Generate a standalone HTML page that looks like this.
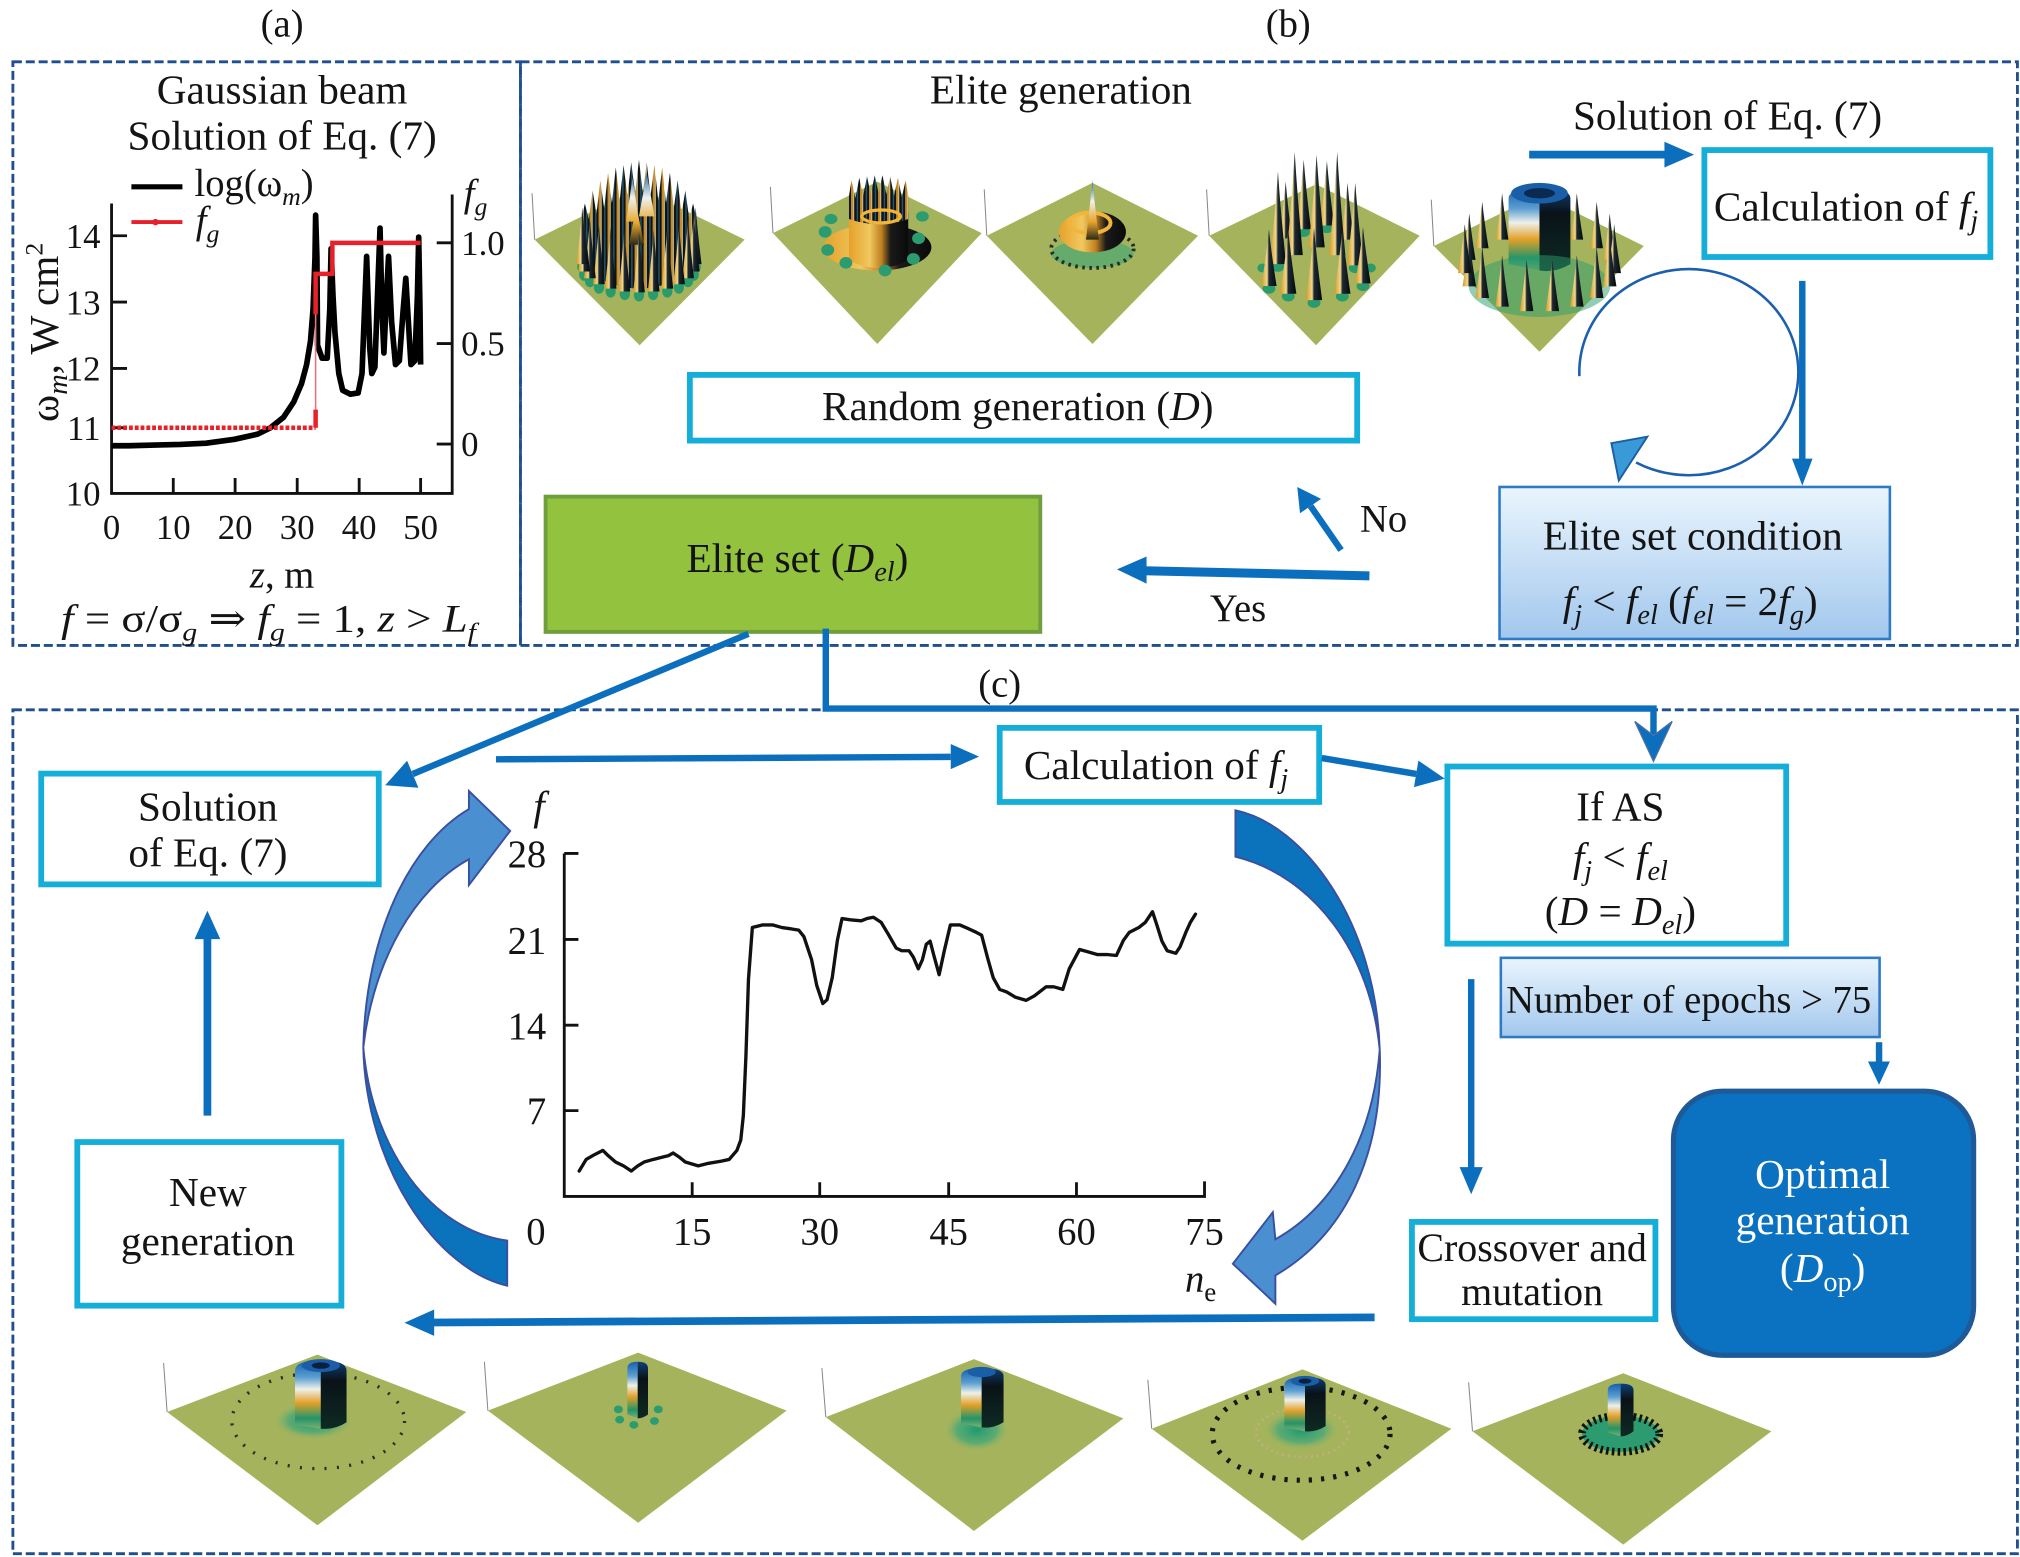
<!DOCTYPE html>
<html><head><meta charset="utf-8">
<style>
html,body{margin:0;padding:0;background:#fff;}
svg{display:block;}
text{font-family:"Liberation Serif","DejaVu Serif",serif;fill:#141414;}
</style></head><body>
<svg xmlns="http://www.w3.org/2000/svg" xmlns:xlink="http://www.w3.org/1999/xlink" width="2020" height="1557" viewBox="0 0 1568 1208.6" preserveAspectRatio="none">
<defs>
<linearGradient id="bg1" x1="0" y1="0" x2="0" y2="1"><stop offset="0" stop-color="#eaf5fd"/><stop offset="1" stop-color="#a2c7ed"/></linearGradient>
<pattern id="st" width="7" height="80" patternUnits="userSpaceOnUse"><rect width="7" height="80" fill="#101416"/><rect x="2.6" width="1.6" height="80" fill="#c98a20"/><rect x="4.2" width=".8" height="80" fill="#e8d8a0"/><rect x="0" width="1" height="80" fill="#235e7a"/></pattern>
<linearGradient id="cl" x1="0" y1="0" x2="0" y2="1"><stop offset="0" stop-color="#1560b0"/><stop offset=".25" stop-color="#5d9fd2"/><stop offset=".42" stop-color="#eef0ea"/><stop offset=".62" stop-color="#e3a128"/><stop offset=".85" stop-color="#23946a"/><stop offset="1" stop-color="#7fb070"/></linearGradient>
<linearGradient id="cr" x1="0" y1="0" x2="0" y2="1"><stop offset="0" stop-color="#0f3f7a"/><stop offset=".3" stop-color="#0a1218"/><stop offset="1" stop-color="#0e2a22"/></linearGradient>
<radialGradient id="gb"><stop offset="0" stop-color="#1d9a70"/><stop offset=".6" stop-color="#4aa878" stop-opacity=".8"/><stop offset="1" stop-color="#a5b45c" stop-opacity="0"/></radialGradient>
<linearGradient id="skg" x1="0" y1="0" x2="1" y2="0"><stop offset="0" stop-color="#d8961c"/><stop offset=".38" stop-color="#f0d890"/><stop offset=".5" stop-color="#1d2a33"/><stop offset="1" stop-color="#05080a"/></linearGradient>
<linearGradient id="md" x1="0" y1="0" x2="1" y2="0"><stop offset="0" stop-color="#e6a12a"/><stop offset=".35" stop-color="#f0c860"/><stop offset=".55" stop-color="#c08020"/><stop offset=".7" stop-color="#1a1a1a"/><stop offset="1" stop-color="#0a0a0a"/></linearGradient>
<linearGradient id="bsp" x1="0" y1="0" x2="0" y2="1"><stop offset="0" stop-color="#1a66b0"/><stop offset=".35" stop-color="#eef2ee"/><stop offset=".7" stop-color="#e8a52a"/><stop offset="1" stop-color="#2a2a1a"/></linearGradient>
<path id="sk" d="M-3.5,0 Q-1.2,-22 0,-40 Q1.2,-22 3.5,0 Z" fill="url(#skg)"/>
</defs>

<!-- dashed panels -->
<g fill="none" stroke="#1f4f8e" stroke-width="2.2" stroke-dasharray="7 3">
<rect x="10" y="48" width="394" height="453"/>
<rect x="404" y="48" width="1162" height="453"/>
<rect x="10" y="551" width="1556" height="655"/>
</g>

<text x="219" y="28.5" text-anchor="middle" font-size="30">(a)</text>
<text x="1000" y="28.5" text-anchor="middle" font-size="30">(b)</text>
<text x="776" y="540.5" text-anchor="middle" font-size="30">(c)</text>

<!-- ===== Panel (a) ===== -->
<text x="219" y="80.5" text-anchor="middle" font-size="32">Gaussian beam</text>
<text x="219" y="116" text-anchor="middle" font-size="32">Solution of Eq. (7)</text>
<line x1="102" y1="145" x2="141.6" y2="145" stroke="#000" stroke-width="4"/>
<text x="151" y="152" font-size="30">log(ω<tspan font-style="italic" font-size="20" dy="7">m</tspan><tspan dy="-7">)</tspan></text>
<line x1="102" y1="172.4" x2="141.6" y2="172.4" stroke="#e8202a" stroke-width="3"/>
<circle cx="120.7" cy="172.4" r="2.5" fill="#e8202a"/>
<text x="152" y="181" font-size="30" font-style="italic">f<tspan font-size="20" dy="7">g</tspan></text>
<text x="360" y="160" font-size="30" font-style="italic">f<tspan font-size="20" dy="7">g</tspan></text>
<!-- axes -->
<g stroke="#111" stroke-width="2.2" fill="none">
<path d="M86.6,158 V383 H351 V151"/>
<path d="M86.6,183 h12 M86.6,234.5 h12 M86.6,286 h12 M86.6,332 h12"/>
<path d="M351,188.5 h-12 M351,266.7 h-12 M351,344.7 h-12"/>
<path d="M134.5,383 v-12 M182.5,383 v-12 M230.7,383 v-12 M278.8,383 v-12 M326.5,383 v-12"/>
</g>
<g font-size="27" text-anchor="end">
<text x="78" y="192.5">14</text><text x="78" y="244">13</text><text x="78" y="295.5">12</text><text x="78" y="341.5">11</text><text x="78" y="392.5">10</text>
</g>
<g font-size="27">
<text x="358" y="198">1.0</text><text x="358" y="276">0.5</text><text x="358" y="354">0</text>
</g>
<g font-size="27" text-anchor="middle">
<text x="86.6" y="418.5">0</text><text x="134.5" y="418.5">10</text><text x="182.5" y="418.5">20</text><text x="230.7" y="418.5">30</text><text x="278.8" y="418.5">40</text><text x="326.5" y="418.5">50</text>
</g>
<text x="219" y="456" text-anchor="middle" font-size="30"><tspan font-style="italic">z</tspan>, m</text>
<text x="208.5" y="490" text-anchor="middle" font-size="30" textLength="322" lengthAdjust="spacingAndGlyphs"><tspan font-style="italic">f</tspan> = σ/σ<tspan font-style="italic" font-size="20" dy="7">g</tspan><tspan dy="-7"> ⇒ </tspan><tspan font-style="italic">f</tspan><tspan font-style="italic" font-size="20" dy="7">g</tspan><tspan dy="-7"> = 1, </tspan><tspan font-style="italic">z</tspan> &gt; <tspan font-style="italic">L</tspan><tspan font-style="italic" font-size="20" dy="7">f</tspan></text>
<text transform="translate(45,258) rotate(-90)" text-anchor="middle" font-size="32">ω<tspan font-style="italic" font-size="22" dy="7">m</tspan><tspan dy="-7">, W cm</tspan><tspan font-size="20" dy="-12">2</tspan></text>
<!-- data -->
<path d="M86.6,346 L100,346 L120,345.5 L140,345 L160,344 L182,341 L200,337 L210,332 L220,324 L228,312 L234,298 L238,283 L241,265 L243,240 L244.5,200 L245,167 L246,200 L246.5,268 L250,278 L254,278 L256,240 L257,193 L258.5,230 L260,258 L263,290 L266,303 L272,306 L278,305 L281,290 L284.6,199 L287,270 L288.6,290 L291,285 L293,230 L295,177 L296.5,240 L298,274 L300,230 L301.6,199 L304,250 L307,283 L310,280 L313,240 L315,216 L317,250 L319,283 L322,280 L324,230 L325,184 L326,240 L326.5,283" fill="none" stroke="#000" stroke-width="4.4" stroke-linejoin="round"/>
<path d="M86.6,332 H245" fill="none" stroke="#e8202a" stroke-width="3.5" stroke-dasharray="3 1.5"/>
<path d="M245,332 V212.6" fill="none" stroke="#f07080" stroke-width="1.2"/>
<path d="M245,332 V318 M245,244 V212.6 H258 V188.5 H326.5" fill="none" stroke="#e8202a" stroke-width="3.5"/>

<!-- ===== Panel (b) ===== -->
<text x="823.5" y="80.5" text-anchor="middle" font-size="32">Elite generation</text>
<text x="1341" y="100.5" text-anchor="middle" font-size="32">Solution of Eq. (7)</text>
<line x1="1187" y1="120" x2="1295" y2="120" stroke="#0b6fbd" stroke-width="6"/>
<polygon points="1292,110 1315,120 1292,130" fill="#0b6fbd"/>
<rect x="1323" y="116.5" width="222" height="83" fill="#fff" stroke="#14aed8" stroke-width="4.5"/>
<text x="1433" y="171" text-anchor="middle" font-size="32">Calculation of <tspan font-style="italic">f</tspan><tspan font-style="italic" font-size="22" dy="7">j</tspan></text>

<!-- 3D plots top -->
<g fill="#a5b45c">
<polygon points="496.5,146 578,186 496.5,268 415,186"/>
<polygon points="681,141 762,181 681,267 600,181"/>
<polygon points="848,142 930,183 848,267 766,183"/>
<polygon points="1021.6,143 1102,183 1021.6,268 938.6,183"/>
<polygon points="1195,151 1276,191 1195,273 1113,191"/>
</g>
<g stroke="#888" stroke-width=".8">
<line x1="415" y1="186" x2="413" y2="150"/><line x1="600" y1="181" x2="598" y2="145"/><line x1="766" y1="183" x2="764" y2="147"/><line x1="938.6" y1="183" x2="936.6" y2="147"/><line x1="1113" y1="191" x2="1111" y2="155"/>
</g>
<!-- plot 1 -->
<path d="M451,208 L451,172 L454,158 L457,170 L460,148 L463,166 L466,140 L469,162 L472,134 L475,158 L478,130 L481,156 L484,128 L487,152 L490,126 L493,150 L496,124 L499,150 L502,126 L505,152 L508,128 L511,156 L514,130 L517,158 L520,134 L523,162 L526,140 L529,166 L532,148 L535,170 L538,158 L541,172 L541,208 Q496,240 451,208 Z" fill="url(#st)"/>
<path d="M486,172 L491,138 L496,172 Z M496,168 L502,134 L508,168 Z M488,190 L494,160 L500,190 Z" fill="url(#bsp)"/>
<g fill="#2a9c6c">
<ellipse cx="540" cy="207" rx="4" ry="5"/><ellipse cx="538.5" cy="213" rx="4" ry="5"/><ellipse cx="534" cy="218" rx="4" ry="5"/><ellipse cx="527" cy="223" rx="4" ry="5"/><ellipse cx="518" cy="226" rx="4" ry="5"/><ellipse cx="507" cy="228" rx="4" ry="5"/><ellipse cx="496" cy="229" rx="4" ry="5"/><ellipse cx="485" cy="228" rx="4" ry="5"/><ellipse cx="474" cy="226" rx="4" ry="5"/><ellipse cx="465" cy="223" rx="4" ry="5"/><ellipse cx="458" cy="218" rx="4" ry="5"/><ellipse cx="453.5" cy="213" rx="4" ry="5"/><ellipse cx="452" cy="207" rx="4" ry="5"/>
</g>
<g>
<use xlink:href="#sk" transform="translate(540,205) scale(1.3,1.1)"/><use xlink:href="#sk" transform="translate(538.5,210.7) scale(1.3,1.1)"/><use xlink:href="#sk" transform="translate(534.1,216) scale(1.3,1.15)"/><use xlink:href="#sk" transform="translate(527.1,220.6) scale(1.3,1.15)"/><use xlink:href="#sk" transform="translate(518,224) scale(1.3,1.2)"/><use xlink:href="#sk" transform="translate(507.4,226.3) scale(1.3,1.2)"/><use xlink:href="#sk" transform="translate(496,227) scale(1.3,1.2)"/><use xlink:href="#sk" transform="translate(484.6,226.3) scale(1.3,1.2)"/><use xlink:href="#sk" transform="translate(474,224) scale(1.3,1.2)"/><use xlink:href="#sk" transform="translate(464.9,220.6) scale(1.3,1.15)"/><use xlink:href="#sk" transform="translate(457.9,216) scale(1.3,1.15)"/><use xlink:href="#sk" transform="translate(453.5,210.7) scale(1.3,1.1)"/><use xlink:href="#sk" transform="translate(452,205) scale(1.3,1.1)"/>
</g>
<!-- plot 2 -->
<g fill="#2c9c70">
<ellipse cx="645" cy="170" rx="5" ry="4"/><ellipse cx="716" cy="168" rx="5" ry="4"/>
</g>
<ellipse cx="681" cy="192" rx="42" ry="18" fill="url(#md)"/>
<path d="M659,202 L659,165 L705,165 L705,202 Q682,214 659,202 Z" fill="url(#md)"/>
<path d="M659,170 L659,152 L661,140 L664,154 L667,138 L670,152 L673,137 L676,151 L679,136 L682,150 L685,136 L688,151 L691,137 L694,152 L697,138 L700,153 L703,140 L705,152 L705,170 Q682,178 659,170 Z" fill="url(#st)"/>
<ellipse cx="684" cy="168" rx="15" ry="5" fill="none" stroke="#f2b53a" stroke-width="2.5"/>
<g fill="#2c9c70">
<ellipse cx="640.5" cy="180" rx="5" ry="4.5"/><ellipse cx="642.5" cy="194" rx="5" ry="4.5"/><ellipse cx="656.6" cy="204" rx="5" ry="4.5"/><ellipse cx="687" cy="210" rx="5" ry="4.5"/><ellipse cx="709" cy="201" rx="5" ry="4.5"/><ellipse cx="713" cy="185" rx="5" ry="4.5"/>
</g>
<!-- plot 3 -->
<ellipse cx="848" cy="197" rx="32" ry="11" fill="#3aa575" opacity=".6"/>
<ellipse cx="848" cy="193" rx="32" ry="15" fill="none" stroke="#203028" stroke-width="3" stroke-dasharray="2 3.5"/>
<ellipse cx="848" cy="180" rx="26" ry="16" fill="url(#md)"/>
<ellipse cx="846" cy="173" rx="16" ry="8" fill="none" stroke="#f2b53a" stroke-width="3"/>
<path d="M843,186 Q846,160 848,140 Q850,160 853,186 Z" fill="url(#bsp)"/>
<!-- plot 4 -->
<g fill="#2a9c6c">
<ellipse cx="1012" cy="180" rx="5" ry="4"/><ellipse cx="1030" cy="177" rx="5" ry="4"/><ellipse cx="992" cy="207" rx="5" ry="4"/><ellipse cx="1052" cy="208" rx="5" ry="4"/>
</g>
<g>
<use xlink:href="#sk" transform="translate(1012,178) scale(1.6,1.35)"/><use xlink:href="#sk" transform="translate(1030,175) scale(1.6,1.25)"/><use xlink:href="#sk" transform="translate(998,185) scale(1.4,1.1)"/><use xlink:href="#sk" transform="translate(1046,186) scale(1.4,1.1)"/>
<use xlink:href="#sk" transform="translate(992,205) scale(1.8,1.8)"/><use xlink:href="#sk" transform="translate(1005,198) scale(1.8,2)"/><use xlink:href="#sk" transform="translate(1022,192) scale(1.8,1.8)"/><use xlink:href="#sk" transform="translate(1038,198) scale(1.8,2)"/><use xlink:href="#sk" transform="translate(1052,206) scale(1.8,1.6)"/>
</g>
<g fill="#2a9c6c">
<ellipse cx="985" cy="224" rx="5" ry="4"/><ellipse cx="1000" cy="230" rx="5" ry="4"/><ellipse cx="1020" cy="235" rx="5" ry="4"/><ellipse cx="1042" cy="230" rx="5" ry="4"/><ellipse cx="1058" cy="222" rx="5" ry="4"/><ellipse cx="980" cy="208" rx="4" ry="3.5"/><ellipse cx="1064" cy="208" rx="4" ry="3.5"/>
</g>
<g>
<use xlink:href="#sk" transform="translate(985,222) scale(1.7,1.1)"/><use xlink:href="#sk" transform="translate(1000,228) scale(1.8,1.25)"/><use xlink:href="#sk" transform="translate(1020,233) scale(1.8,1.4)"/><use xlink:href="#sk" transform="translate(1042,228) scale(1.8,1.25)"/><use xlink:href="#sk" transform="translate(1058,220) scale(1.7,1.1)"/>
</g>
<!-- plot 5 -->
<g>
<use xlink:href="#sk" transform="translate(1140.5,201.7) scale(1.4,.9)"/><use xlink:href="#sk" transform="translate(1150.6,192.7) scale(1.4,.9)"/><use xlink:href="#sk" transform="translate(1166,186) scale(1.4,.9)"/><use xlink:href="#sk" transform="translate(1224,186) scale(1.4,.9)"/><use xlink:href="#sk" transform="translate(1239.4,192.7) scale(1.4,.9)"/><use xlink:href="#sk" transform="translate(1249.5,201.7) scale(1.4,.9)"/>
</g>
<path d="M1171,205 L1171,154 Q1171,146 1195,146 L1195,210 Z" fill="url(#cl)"/>
<path d="M1195,146 Q1219,146 1219,154 L1219,205 Q1207,212 1195,210 Z" fill="url(#cr)"/>
<ellipse cx="1195" cy="150" rx="22" ry="8" fill="#1a5ea8"/>
<ellipse cx="1195" cy="150" rx="12" ry="4" fill="#0a2a50"/>
<ellipse cx="1195" cy="222" rx="55" ry="24" fill="#2a9c6c" opacity=".5"/>
<g>
<use xlink:href="#sk" transform="translate(1253,212) scale(1.5,.95)"/><use xlink:href="#sk" transform="translate(1249.5,222.3) scale(1.5,.95)"/><use xlink:href="#sk" transform="translate(1239.4,231.3) scale(1.5,1)"/><use xlink:href="#sk" transform="translate(1224,238) scale(1.5,1)"/><use xlink:href="#sk" transform="translate(1205,241.5) scale(1.5,1)"/><use xlink:href="#sk" transform="translate(1185,241.5) scale(1.5,1)"/><use xlink:href="#sk" transform="translate(1166,238) scale(1.5,1)"/><use xlink:href="#sk" transform="translate(1150.6,231.3) scale(1.5,1)"/><use xlink:href="#sk" transform="translate(1140.5,222.3) scale(1.5,.95)"/><use xlink:href="#sk" transform="translate(1137,212) scale(1.5,.95)"/>
</g>

<!-- loop arrow -->
<path d="M1226,292 A85,80 0 1 1 1270,359" fill="none" stroke="#1c5fae" stroke-width="2"/>
<polygon points="1250.8,344 1278.7,339 1256.6,373" fill="#3a9ad8" stroke="#1a5ea8" stroke-width="1.5"/>
<!-- vertical arrow -->
<line x1="1399" y1="218" x2="1399" y2="358" stroke="#0b6fbd" stroke-width="5"/>
<polygon points="1391,356 1399,377 1407,356" fill="#0b6fbd"/>

<rect x="535.5" y="291" width="518" height="51" fill="#fff" stroke="#14aed8" stroke-width="4.5"/>
<text x="790" y="326" text-anchor="middle" font-size="32">Random generation (<tspan font-style="italic">D</tspan>)</text>

<rect x="1164" y="378" width="303" height="118" fill="url(#bg1)" stroke="#2d7bc7" stroke-width="2"/>
<text x="1314" y="426.5" text-anchor="middle" font-size="32">Elite set condition</text>
<text x="1312" y="477.5" text-anchor="middle" font-size="32"><tspan font-style="italic">f</tspan><tspan font-style="italic" font-size="22" dy="7">j</tspan><tspan dy="-7"> &lt; </tspan><tspan font-style="italic">f</tspan><tspan font-style="italic" font-size="22" dy="7">el</tspan><tspan dy="-7"> (</tspan><tspan font-style="italic">f</tspan><tspan font-style="italic" font-size="22" dy="7">el</tspan><tspan dy="-7"> = 2</tspan><tspan font-style="italic">f</tspan><tspan font-style="italic" font-size="22" dy="7">g</tspan><tspan dy="-7">)</tspan></text>

<rect x="423.5" y="385.5" width="384" height="105" fill="#93c23f" stroke="#6f9e3d" stroke-width="3"/>
<text x="619" y="444" text-anchor="middle" font-size="32">Elite set (<tspan font-style="italic">D</tspan><tspan font-style="italic" font-size="22" dy="7">el</tspan><tspan dy="-7">)</tspan></text>

<!-- No / Yes arrows -->
<line x1="1041" y1="427" x2="1017.3" y2="392.8" stroke="#0b6fbd" stroke-width="5"/>
<polygon points="1025.5,387.2 1007,378 1009.1,398.4" fill="#0b6fbd"/>
<text x="1074" y="412.5" text-anchor="middle" font-size="30">No</text>
<line x1="1063" y1="447" x2="888" y2="443" stroke="#0b6fbd" stroke-width="7"/>
<polygon points="890,432 867,442 890,453" fill="#0b6fbd"/>
<text x="961" y="482" text-anchor="middle" font-size="30">Yes</text>

<!-- connectors from Elite set -->
<line x1="581" y1="492" x2="320.4" y2="600.8" stroke="#0b6fbd" stroke-width="5"/>
<polygon points="324.8,611.5 299,609.5 316,590.5" fill="#0b6fbd"/>
<polyline points="641,488 641,550 1283.5,550 1283.5,572" fill="none" stroke="#0b6fbd" stroke-width="5"/>
<path d="M1269,560 L1283.5,591 L1298,560 L1283.5,571 Z" fill="#0b6fbd" stroke="#4a70a0" stroke-width="1"/>

<!-- ===== Panel (c) ===== -->
<rect x="32" y="600.5" width="262" height="86" fill="#fff" stroke="#14aed8" stroke-width="4.5"/>
<text x="161.4" y="637" text-anchor="middle" font-size="32">Solution</text>
<text x="161.4" y="672.5" text-anchor="middle" font-size="32">of Eq. (7)</text>

<rect x="60" y="886.5" width="205" height="127" fill="#fff" stroke="#14aed8" stroke-width="4.5"/>
<text x="161.4" y="936" text-anchor="middle" font-size="32">New</text>
<text x="161.4" y="974" text-anchor="middle" font-size="32">generation</text>

<line x1="161" y1="866" x2="161" y2="726" stroke="#0b6fbd" stroke-width="6"/>
<polygon points="151,729 161,707 171,729" fill="#0b6fbd"/>

<line x1="385" y1="589.4" x2="738" y2="587.5" stroke="#0b6fbd" stroke-width="5"/>
<polygon points="738,577.5 760,587.3 738,597" fill="#0b6fbd"/>

<rect x="776" y="565" width="248" height="57.5" fill="#fff" stroke="#14aed8" stroke-width="4.5"/>
<text x="897.4" y="604.5" text-anchor="middle" font-size="32">Calculation of <tspan font-style="italic">f</tspan><tspan font-style="italic" font-size="22" dy="7">j</tspan></text>

<line x1="1026" y1="588.4" x2="1099.3" y2="600.75" stroke="#0b6fbd" stroke-width="5"/>
<polygon points="1097.6,611 1121.5,604.4 1101,590.4" fill="#0b6fbd"/>

<rect x="1123.5" y="595" width="263" height="137.5" fill="#fff" stroke="#14aed8" stroke-width="4.5"/>
<text x="1257.8" y="637" text-anchor="middle" font-size="32">If AS</text>
<text x="1257.8" y="676" text-anchor="middle" font-size="32"><tspan font-style="italic">f</tspan><tspan font-style="italic" font-size="22" dy="7">j</tspan><tspan dy="-7"> &lt; </tspan><tspan font-style="italic">f</tspan><tspan font-style="italic" font-size="22" dy="7">el</tspan></text>
<text x="1257.8" y="718" text-anchor="middle" font-size="32">(<tspan font-style="italic">D</tspan> = <tspan font-style="italic">D</tspan><tspan font-style="italic" font-size="22" dy="7">el</tspan><tspan dy="-7">)</tspan></text>

<rect x="1165" y="743.5" width="294" height="61.5" fill="url(#bg1)" stroke="#2d7bc7" stroke-width="2"/>
<text x="1310.8" y="786" text-anchor="middle" font-size="30">Number of epochs &gt; 75</text>

<line x1="1142" y1="760" x2="1142" y2="908" stroke="#0b6fbd" stroke-width="5"/>
<polygon points="1133,906 1142,927 1151,906" fill="#0b6fbd"/>
<line x1="1458.6" y1="809" x2="1458.6" y2="826" stroke="#0b6fbd" stroke-width="5"/>
<polygon points="1450,824 1458.6,842 1467,824" fill="#0b6fbd"/>

<rect x="1096" y="948.5" width="189" height="75.5" fill="#fff" stroke="#14aed8" stroke-width="4.5"/>
<text x="1189.3" y="979" text-anchor="middle" font-size="31">Crossover and</text>
<text x="1189.3" y="1013" text-anchor="middle" font-size="31">mutation</text>

<rect x="1299" y="847" width="233" height="205" rx="38" ry="38" fill="#0a72c0" stroke="#1d5a97" stroke-width="4"/>
<g font-size="32" text-anchor="middle">
<text x="1414.8" y="922" style="fill:#fff">Optimal</text>
<text x="1414.8" y="958" style="fill:#fff">generation</text>
<text x="1414.8" y="995" style="fill:#fff">(<tspan font-style="italic">D</tspan><tspan font-size="22" dy="7">op</tspan><tspan dy="-7">)</tspan></text>
</g>

<line x1="1067" y1="1022.6" x2="336" y2="1026.6" stroke="#0b6fbd" stroke-width="6"/>
<polygon points="337,1016.5 314,1026.8 337,1037" fill="#0b6fbd"/>

<!-- curved arrows -->
<path d="M393.7,998 C338,985 284,905 282,813 C289,893 335,955 393.7,963 Z" fill="#0b72bc" stroke="#3a4fa0" stroke-width="1.5"/>
<path d="M282,813 C284,725 318,655 364,628 L364,614 L396,645 L364,687 L364,667 C322,690 290,745 282,813 Z" fill="#4a90d0" stroke="#3a4fa0" stroke-width="1.5"/>
<path d="M959,629 C1012,640 1068,715 1071,815 C1064,740 1020,680 959,665 Z" fill="#0b72bc" stroke="#3a4fa0" stroke-width="1.5"/>
<path d="M1071,815 C1074,895 1045,958 990,990 L990,1012 L957,981 L988,941 L990,962 C1038,935 1066,880 1071,815 Z" fill="#4a90d0" stroke="#3a4fa0" stroke-width="1.5"/>

<!-- chart -->
<g stroke="#111" stroke-width="2.2" fill="none">
<path d="M438,662.5 V928.7 H935 V917"/>
<path d="M438,662.5 h11 M438,729.2 h11 M438,795.8 h11 M438,862.1 h11"/>
<path d="M537.3,928.7 v-11 M636.3,928.7 v-11 M736.4,928.7 v-11 M835.6,928.7 v-11"/>
</g>
<text x="418.4" y="636" text-anchor="middle" font-size="32" font-style="italic">f</text>
<g font-size="30" text-anchor="end">
<text x="424" y="673">28</text><text x="424" y="740">21</text><text x="424" y="806.5">14</text><text x="424" y="872.5">7</text>
</g>
<g font-size="30" text-anchor="middle">
<text x="416" y="966">0</text><text x="537.3" y="966">15</text><text x="636.3" y="966">30</text><text x="736.4" y="966">45</text><text x="835.6" y="966">60</text><text x="935" y="966">75</text>
</g>
<text x="932" y="1003" text-anchor="middle" font-size="30"><tspan font-style="italic">n</tspan><tspan font-size="21" dy="7">e</tspan></text>
<polyline fill="none" stroke="#111" stroke-width="2.6" stroke-linejoin="round" stroke-linecap="round" points="449.6,909 455,900 460.5,896.8 468,893 472,897 477.8,902 484,905 490,909 495,905 500,902 507,900 515,898 519,897 522.5,895 527,898 532,902 542,905 550,903 559.5,901.4 566,900 572,893 575,885 577,866 579,820 581,760 584,720 591.7,718 600,718 607,720 614,721 620,722 624,727 630,745 634,765 638.7,779 642,776 646,759 650,730 653.6,713 660,714 668.5,714.8 673,713 678,712 684,716 690,726 695.7,736 700,738 705.6,738 709,743 712.8,752 716,745 719,733 722,730.6 725,742 729,756.6 733,738 737.7,718 745,718 752,721 757.6,723.6 762,726 767,745 771,759 776,768 781.4,770 788,774 796.6,776.5 803,773 812,766 818,766 825,768 830,752 838,737 845,739 852,741 860,741 866.6,741.7 872,730 876.6,723.7 884,720 889,716 894.6,707.7 898,718 902,730.7 906,738 912.7,740 916,735 920.5,723.7 924,716 928,709.6"/>

<!-- 3D plots bottom -->
<g fill="#a5b45c">
<polygon points="246.4,1051.5 362,1096 246.4,1184 129.7,1096"/>
<polygon points="495.3,1050 610.6,1095 495.3,1182 378.7,1095"/>
<polygon points="756,1055 872,1101 756,1188.4 641,1100"/>
<polygon points="1011,1063 1126.6,1109 1011,1196 894,1109"/>
<polygon points="1260,1066 1375,1111 1260,1199 1143,1111"/>
</g>
<g stroke="#888" stroke-width=".8">
<line x1="129.7" y1="1096" x2="127" y2="1058"/><line x1="378.7" y1="1095" x2="376" y2="1057"/><line x1="641" y1="1100" x2="638" y2="1062"/><line x1="894" y1="1109" x2="891" y2="1071"/><line x1="1143" y1="1111" x2="1140" y2="1073"/>
</g>
<!-- B1 -->
<ellipse cx="247" cy="1103" rx="67" ry="37" fill="none" stroke="#2a3028" stroke-width="2.6" stroke-dasharray="1.6 8"/>
<ellipse cx="243" cy="1103" rx="32" ry="15" fill="url(#gb)"/>
<path d="M229,1106 L229,1064 Q229,1056 249,1056 L249,1109 Z" fill="url(#cl)"/>
<path d="M249,1056 Q269,1056 269,1064 L269,1104 Q260,1110 249,1109 Z" fill="url(#cr)"/>
<ellipse cx="249" cy="1060" rx="15" ry="5" fill="#1a5ea8"/><ellipse cx="249" cy="1060" rx="7" ry="2.5" fill="#0a2040"/>
<!-- B2 -->
<g fill="#2c9c70"><ellipse cx="480" cy="1094" rx="3.5" ry="3"/><ellipse cx="481" cy="1102" rx="3.5" ry="3"/><ellipse cx="492" cy="1106" rx="3.5" ry="3"/><ellipse cx="508" cy="1103" rx="3.5" ry="3"/><ellipse cx="511" cy="1094" rx="3.5" ry="3"/></g>
<path d="M487,1098 L487,1062 Q487,1057 495,1057 L495,1101 Z" fill="url(#cl)"/>
<path d="M495,1057 Q503,1057 503,1062 L503,1098 Q499,1101 495,1101 Z" fill="url(#cr)"/>
<!-- B3 -->
<ellipse cx="758" cy="1110" rx="26" ry="17" fill="url(#gb)"/>
<path d="M746,1105 L746,1068 Q746,1062 762,1062 L762,1108 Z" fill="url(#cl)"/>
<path d="M762,1062 Q779,1062 779,1068 L779,1104 Q771,1109 762,1108 Z" fill="url(#cr)"/>
<ellipse cx="762" cy="1065" rx="11" ry="4" fill="#1a5ea8"/>
<!-- B4 -->
<ellipse cx="1010" cy="1113" rx="69" ry="36" fill="none" stroke="#121812" stroke-width="4" stroke-dasharray="2.5 7"/>
<ellipse cx="1011" cy="1112" rx="36" ry="19" fill="none" stroke="#c0b080" stroke-width="2" stroke-dasharray="1.5 3"/>
<ellipse cx="1010" cy="1110" rx="30" ry="16" fill="url(#gb)"/>
<path d="M997,1108 L997,1075 Q997,1069 1013,1069 L1013,1111 Z" fill="url(#cl)"/>
<path d="M1013,1069 Q1029,1069 1029,1075 L1029,1107 Q1021,1112 1013,1111 Z" fill="url(#cr)"/>
<ellipse cx="1013" cy="1072" rx="11" ry="4" fill="#1a5ea8"/><ellipse cx="1013" cy="1072" rx="5" ry="2" fill="#0a2040"/>
<!-- B5 -->
<ellipse cx="1258" cy="1113" rx="30" ry="14" fill="#2c9c70"/>
<ellipse cx="1258" cy="1113" rx="30" ry="14" fill="none" stroke="#0d1410" stroke-width="6" stroke-dasharray="2 2.5"/>
<path d="M1248,1112 L1248,1079 Q1248,1074 1258,1074 L1258,1115 Z" fill="url(#cl)"/>
<path d="M1258,1074 Q1268,1074 1268,1079 L1268,1111 Q1263,1115 1258,1115 Z" fill="url(#cr)"/>
</svg>
</body></html>
